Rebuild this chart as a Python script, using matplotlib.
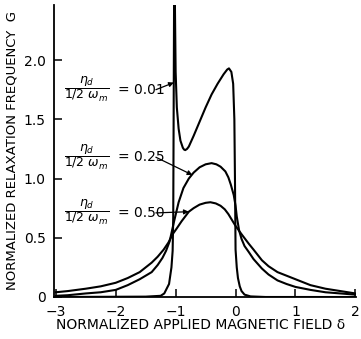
import matplotlib.pyplot as plt

# eta_d / (1/2 omega_m) = 0.50
x_050 = [-3.0, -2.8, -2.5, -2.25, -2.0, -1.8, -1.6, -1.5, -1.4, -1.3, -1.2,
         -1.12, -1.05, -0.98, -0.9, -0.84, -0.78, -0.7, -0.6, -0.5, -0.42,
         -0.33, -0.25, -0.18, -0.12, -0.06, 0.0, 0.05, 0.1, 0.16, 0.22, 0.3,
         0.44, 0.55, 0.7, 0.85, 1.0, 1.25, 1.5, 1.75, 2.0]
g_050 = [0.04, 0.05, 0.07, 0.09, 0.12, 0.16, 0.21, 0.25, 0.29, 0.34, 0.40,
         0.46, 0.53, 0.58, 0.64, 0.68, 0.72, 0.75, 0.78, 0.795, 0.80,
         0.79, 0.77, 0.74, 0.70, 0.65, 0.60, 0.565, 0.53, 0.49, 0.45, 0.40,
         0.31, 0.26, 0.21, 0.18, 0.15, 0.10, 0.07, 0.05, 0.03]

# eta_d / (1/2 omega_m) = 0.25
x_025 = [-3.0, -2.8, -2.5, -2.25, -2.0, -1.8, -1.6, -1.5, -1.4, -1.3, -1.22,
         -1.16, -1.1, -1.03, -0.95, -0.87, -0.78, -0.7, -0.6, -0.5, -0.4,
         -0.32, -0.25, -0.17, -0.12, -0.08, -0.03, 0.0, 0.02, 0.06, 0.1, 0.15,
         0.22, 0.3, 0.44, 0.55, 0.7, 0.85, 1.0, 1.25, 1.5, 1.75, 2.0]
g_025 = [0.01, 0.015, 0.03, 0.04, 0.06, 0.10, 0.15, 0.18, 0.21, 0.27, 0.33,
         0.39, 0.47, 0.63, 0.80, 0.92, 1.00, 1.05, 1.095, 1.12, 1.13,
         1.12, 1.10, 1.06, 1.01, 0.95, 0.86, 0.77, 0.68, 0.56, 0.49, 0.43,
         0.38, 0.32, 0.24, 0.19, 0.14, 0.11, 0.085, 0.06, 0.04, 0.03, 0.02]

# eta_d / (1/2 omega_m) = 0.01 (diverges near delta = -1)
x_001 = [-3.0, -1.5, -1.25, -1.19, -1.11, -1.07, -1.05, -1.04, -1.025,
         -1.015, -1.0, -0.98, -0.95, -0.92, -0.88, -0.86, -0.84, -0.81, -0.78,
         -0.7, -0.6, -0.5, -0.4, -0.3, -0.2, -0.14, -0.11, -0.07, -0.04,
         -0.02, -0.01, 0.0, 0.02, 0.04, 0.07, 0.1, 0.15, 0.25, 0.5, 2.0]
g_001 = [0.0, 0.003, 0.01, 0.03, 0.11, 0.25, 0.39, 0.68, 2.6,
         2.6, 1.9, 1.6, 1.42, 1.32, 1.26, 1.245, 1.24, 1.25, 1.27,
         1.36, 1.48, 1.60, 1.71, 1.80, 1.88, 1.92, 1.93, 1.90, 1.80,
         1.5, 1.0, 0.4, 0.25, 0.16, 0.09, 0.05, 0.02, 0.005, 0.0, 0.0]

labels = ['0.01', '0.25', '0.50']
label_y = [1.75, 1.18, 0.71]
arrow_to = [(-1.03, 1.81), (-0.72, 1.03), (-0.78, 0.72)]

plt.rcParams['font.family'] = 'DejaVu Sans'
plt.rcParams['mathtext.fontset'] = 'dejavusans'

fig = plt.figure(figsize=(3.61, 3.39), dpi=100)
ax = fig.add_axes([54 / 361, 42 / 339, 302 / 361, 292 / 339])

for xs, gs in [(x_050, g_050), (x_025, g_025), (x_001, g_001)]:
    ax.plot(xs, gs, color='black', lw=1.5, solid_joinstyle='round')

ax.set_xlim(-3.03, 2.01)
ax.set_ylim(0, 2.465)

for s in ['top', 'right']:
    ax.spines[s].set_visible(False)
for s in ['left', 'bottom']:
    ax.spines[s].set_linewidth(1.3)

ax.set_xticks([-3, -2, -1, 0, 1, 2])
ax.set_xticklabels(['\u22123', '\u22122', '\u22121', '0', '1', '2'])
ax.set_yticks([0, 0.5, 1.0, 1.5, 2.0])
ax.set_yticklabels(['0', '0.5', '1.0', '1.5', '2.0'])
ax.tick_params(direction='in', length=6, width=1.1, labelsize=10, pad=6)

frac = r'$\dfrac{\eta_d}{1/2\ \omega_m}$'
for lab, ly, (ex, ey) in zip(labels, label_y, arrow_to):
    ax.text(-2.86, ly, frac, fontsize=9, ha='left', va='center')
    ax.text(-1.96, ly, '= ' + lab, fontsize=10, ha='left', va='center')
    ax.annotate('', xy=(ex, ey), xytext=(-1.33, ly),
                arrowprops=dict(arrowstyle='-|>', color='black', lw=0.9,
                                mutation_scale=7, shrinkA=0, shrinkB=0))

fig.text(201 / 361, 1 - 325 / 339, 'NORMALIZED APPLIED MAGNETIC FIELD \u03b4',
         ha='center', va='center', fontsize=10)
fig.text(12 / 361, 1 - 150 / 339, 'NORMALIZED RELAXATION FREQUENCY  G',
         ha='center', va='center', rotation=90, fontsize=9.5)

fig.savefig('out.png', dpi=100)
